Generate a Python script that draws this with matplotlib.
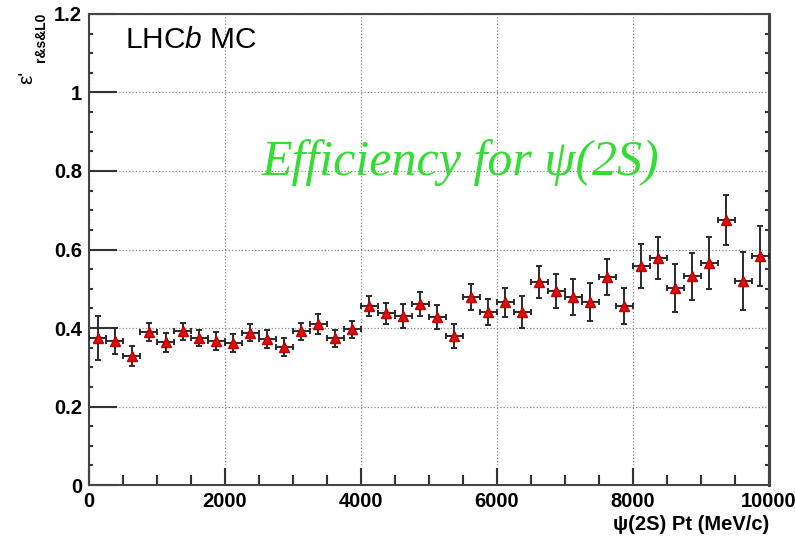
import numpy as np
import matplotlib
matplotlib.use("Agg")
import matplotlib.pyplot as plt
from matplotlib.ticker import MultipleLocator

plt.rcParams['font.family'] = ['Liberation Sans', 'DejaVu Sans']
plt.rcParams['mathtext.fontset'] = 'custom'
plt.rcParams['mathtext.rm'] = 'Liberation Sans'
plt.rcParams['mathtext.it'] = 'Liberation Sans:italic'
plt.rcParams['mathtext.bf'] = 'Liberation Sans:bold'

# pT bins of 250 MeV/c from 0 to 10 GeV/c
bin_edges = np.arange(0, 10001, 250)
efficiency = [0.375, 0.367, 0.329, 0.390, 0.364, 0.392, 0.375, 0.367,
              0.362, 0.388, 0.372, 0.352, 0.392, 0.410, 0.374, 0.397,
              0.456, 0.438, 0.431, 0.461, 0.428, 0.380, 0.479, 0.441,
              0.466, 0.441, 0.517, 0.494, 0.479, 0.466, 0.530, 0.456,
              0.558, 0.578, 0.502, 0.532, 0.566, 0.675, 0.520, 0.583]
eff_err = [0.056, 0.032, 0.025, 0.023, 0.024, 0.022, 0.020, 0.022,
           0.024, 0.022, 0.022, 0.022, 0.022, 0.025, 0.022, 0.022,
           0.026, 0.027, 0.030, 0.030, 0.030, 0.030, 0.032, 0.034,
           0.037, 0.040, 0.040, 0.043, 0.045, 0.048, 0.046, 0.046,
           0.055, 0.053, 0.060, 0.060, 0.067, 0.064, 0.073, 0.077]

centers = 0.5 * (bin_edges[:-1] + bin_edges[1:])
half_width = 0.5 * np.diff(bin_edges)

fig = plt.figure(figsize=(7.95, 5.36), dpi=100)
ax = fig.add_axes([0.112, 0.095, 0.855, 0.879])

ax.errorbar(centers, efficiency, xerr=half_width, yerr=eff_err,
            fmt='^', color='#d81010', markersize=6.5, markeredgecolor='#c00000',
            ecolor='#2a2a2a', elinewidth=1.4, capsize=2.5, capthick=1.4, zorder=3)

ax.set_xlim(0, 10000)
ax.set_ylim(0, 1.2)
ax.xaxis.set_major_locator(MultipleLocator(2000))
ax.xaxis.set_minor_locator(MultipleLocator(500))
ax.yaxis.set_major_locator(MultipleLocator(0.2))
ax.yaxis.set_minor_locator(MultipleLocator(0.05))
ax.set_yticks([0, 0.2, 0.4, 0.6, 0.8, 1.0, 1.2])
ax.set_yticklabels(['0', '0.2', '0.4', '0.6', '0.8', '1', '1.2'])

ax.tick_params(which='both', direction='in', labelsize=14.5, width=1.5, color='#333333')
ax.tick_params(axis='y', which='major', length=20, pad=5)
ax.tick_params(axis='y', which='minor', length=10)
ax.tick_params(axis='x', which='major', length=12, pad=5)
ax.tick_params(axis='x', which='minor', length=7)
ax.tick_params(axis='y', which='minor', right=True, length=3)
for lbl in ax.get_xticklabels() + ax.get_yticklabels():
    lbl.set_fontweight('bold')
for side in ax.spines.values():
    side.set_linewidth(1.5)
    side.set_color('#444444')
ax.spines['right'].set_linewidth(2.2)

ax.grid(True, which='major', linestyle=':', color='#888888', linewidth=0.9)

ax.set_xlabel('ψ(2S) Pt (MeV/c)', loc='right', fontsize=14.5, fontweight='bold', labelpad=3)

# epsilon' with its subscript, both rotated along the y axis
fig.text(0.034, 0.855, "ε'", rotation=90, fontsize=15, ha='center', va='center')
fig.text(0.051, 0.977, 'r&s&L0', rotation=90, fontsize=10, fontweight='bold',
         ha='center', va='top')

ax.text(0.053, 0.975, r'LHC$b$ MC', transform=ax.transAxes, fontsize=21.5,
        ha='left', va='top')
ax.text(0.547, 0.684, 'Efficiency for ψ(2S)', transform=ax.transAxes,
        fontsize=36, color='#33dd33', fontstyle='italic',
        family=['Liberation Serif', 'DejaVu Serif'], ha='center', va='center')

fig.savefig('out.png', dpi=100)
